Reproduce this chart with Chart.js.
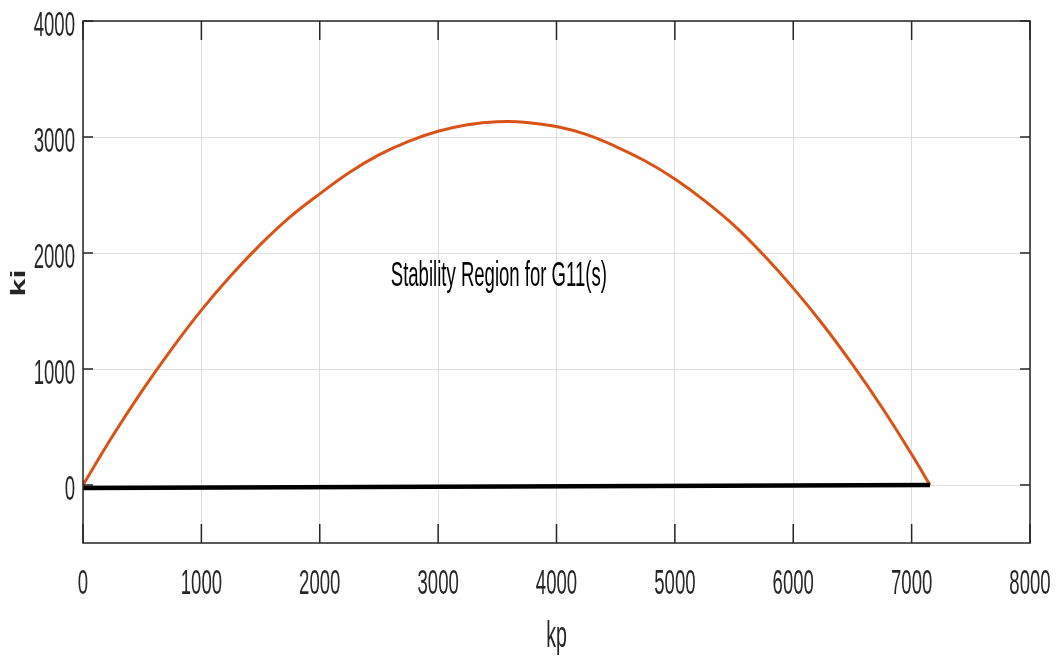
<!DOCTYPE html>
<html>
<head>
<meta charset="utf-8">
<script src="https://cdn.jsdelivr.net/npm/chart.js@4"></script>
<style>
  body { margin: 0; background: #fff; }
  #wrap { width: 1061px; height: 659px; position: relative; }
</style>
</head>
<body>
<div id="wrap"><canvas id="grafico"></canvas></div>
<script>
// curva de fronteira (kp, ki)
const kpValores = [0, 250, 500, 750, 1000, 1250, 1500, 1750, 2000, 2250, 2500, 2750, 3000, 3250, 3500,
                   3750, 4000, 4250, 4500, 4750, 5000, 5250, 5500, 5750, 6000, 6250, 6500, 6750, 7000, 7155];
const kiValores = [0, 422, 813, 1174, 1508, 1806, 2074, 2311, 2510, 2695, 2846, 2963, 3049, 3105, 3131,
                   3126, 3090, 3022, 2918, 2793, 2638, 2452, 2238, 1982, 1697, 1384, 1040, 668, 265, 0];

// linha preta ki ~ 0
const kpBase = [0, 7155];
const kiBase = [-25, 0];

const ticksX = [0, 1000, 2000, 3000, 4000, 5000, 6000, 7000, 8000];
const ticksY = [0, 1000, 2000, 3000, 4000];

const tituloX = "kp";
const tituloY = "ki";
const anotacao = "Stability Region for G11(s)";
const anotacaoPos = { x: 2600, y: 1712 };

const FONTE = '"Liberation Sans", Arial, sans-serif';

/* ---------- caixa, ticks internos e textos (estilo MATLAB) ---------- */
const caixaPlugin = {
    id: "caixa",
    afterDraw(chart) {
        const { ctx, chartArea: a, scales } = chart;
        const x = scales.x, y = scales.y;
        ctx.save();

        ctx.strokeStyle = "#262626";
        ctx.lineWidth = 1.5;
        ctx.strokeRect(a.left, a.top, a.right - a.left, a.bottom - a.top);

        ctx.beginPath();
        ticksX.forEach(v => {
            const px = x.getPixelForValue(v);
            ctx.moveTo(px, a.bottom); ctx.lineTo(px, a.bottom - 19);
            ctx.moveTo(px, a.top);    ctx.lineTo(px, a.top + 19);
        });
        ticksY.forEach(v => {
            const py = y.getPixelForValue(v);
            ctx.moveTo(a.left, py);  ctx.lineTo(a.left + 10, py);
            ctx.moveTo(a.right, py); ctx.lineTo(a.right - 10, py);
        });
        ctx.stroke();

        const texto = (s, px, py, align, sx, fonte) => {
            ctx.save();
            ctx.translate(px, py);
            ctx.scale(sx, 1);
            ctx.font = fonte;
            ctx.textAlign = align;
            ctx.textBaseline = "alphabetic";
            ctx.fillText(s, 0, 0);
            ctx.restore();
        };

        ctx.fillStyle = "#262626";
        ticksX.forEach(v => texto(String(v), x.getPixelForValue(v), 594, "center", 0.53, "35px " + FONTE));
        ticksY.forEach(v => texto(String(v), 75, y.getPixelForValue(v) + 15, "right", 0.53, "35px " + FONTE));

        texto(tituloX, (a.left + a.right) / 2, 647, "center", 0.53, "37px " + FONTE);

        // titulo do eixo y, girado
        ctx.save();
        ctx.translate(25, 283);
        ctx.rotate(-Math.PI / 2);
        ctx.scale(1.58, 1);
        ctx.font = "bold 20.5px " + FONTE;
        ctx.textAlign = "center";
        ctx.textBaseline = "alphabetic";
        ctx.fillText(tituloY, 0, 0);
        ctx.restore();

        ctx.fillStyle = "#000";
        texto(anotacao, x.getPixelForValue(anotacaoPos.x), y.getPixelForValue(anotacaoPos.y),
              "left", 0.53, "35px " + FONTE);

        ctx.restore();
    }
};

const pontosCurva = kpValores.map((v, i) => ({ x: v, y: kiValores[i] }));
const pontosBase = kpBase.map((v, i) => ({ x: v, y: kiBase[i] }));

new Chart(document.getElementById("grafico"), {
    type: "scatter",
    data: {
        datasets: [
            {
                data: pontosBase,
                showLine: true,
                borderColor: "#000000",
                borderWidth: 4.5,
                pointRadius: 0
            },
            {
                data: pontosCurva,
                showLine: true,
                borderColor: "#D95319",
                borderWidth: 3,
                pointRadius: 0,
                tension: 0.4
            }
        ]
    },
    options: {
        responsive: true,
        maintainAspectRatio: false,
        devicePixelRatio: 1,
        animation: false,
        layout: { padding: { top: 21, right: 31, left: 0, bottom: 0 } },
        plugins: {
            legend: { display: false },
            tooltip: { enabled: false }
        },
        scales: {
            x: {
                type: "linear",
                min: 0,
                max: 8000,
                afterBuildTicks: s => { s.ticks = ticksX.map(v => ({ value: v })); },
                afterFit: s => { s.height = 116; },
                ticks: { display: false },
                grid: { color: "#dedede", lineWidth: 1, drawTicks: false },
                border: { display: false }
            },
            y: {
                type: "linear",
                min: -500,
                max: 4000,
                afterBuildTicks: s => { s.ticks = ticksY.map(v => ({ value: v })); },
                afterFit: s => { s.width = 83; },
                ticks: { display: false },
                grid: { color: "#dedede", lineWidth: 1, drawTicks: false },
                border: { display: false }
            }
        }
    },
    plugins: [caixaPlugin]
});
</script>
</body>
</html>
